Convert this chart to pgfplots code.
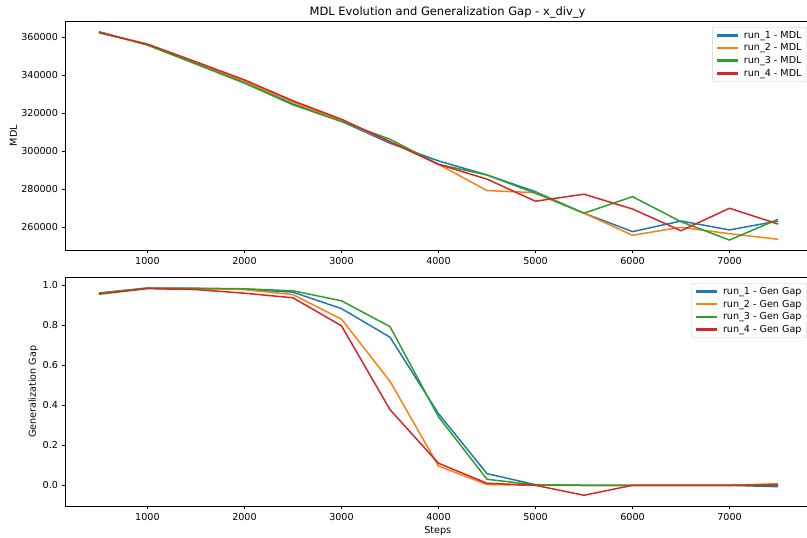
\documentclass[border=0pt]{standalone}
\usepackage{fontspec}
\setmainfont{DejaVu Sans}
\usepackage{pgfplots}
\pgfplotsset{compat=1.18}
\definecolor{c0}{HTML}{1F77B4}
\definecolor{c1}{HTML}{FF7F0E}
\definecolor{c2}{HTML}{2CA02C}
\definecolor{c3}{HTML}{D62728}
\pgfplotsset{
  legend image code/.code={\path (-1pt,0pt) (24pt,0pt);\fill[#1, sharp corners, line width=0pt] (0pt,-0.75pt) rectangle (20pt,0.75pt);},
  common/.style={
    scale only axis, width=747pt, height=228.5pt,
    anchor=south west,
    xmin=150, xmax=7850,
    xtick={1000,2000,...,7000},
    tick align=outside, xtick pos=bottom, ytick pos=left,
    major tick length=3.5pt,
    every tick/.style={black, line width=0.8pt},
    axis line style={line width=0.8pt},
    /pgf/number format/assume math mode=true,
    tick label style={font=\fontsize{9.6}{11}\selectfont},
    label style={font=\fontsize{9.6}{11}\selectfont},
    xticklabel style={/pgf/number format/1000 sep={}},
    legend cell align=left,
    legend style={at={(0.9929,0.9755)}, anchor=north east,
      draw=black!20, fill=white, rounded corners=2pt,
      font=\fontsize{9.6}{11}\selectfont},
  }
}
\begin{document}
\begin{tikzpicture}
\useasboundingbox (0,0) rectangle (807pt,538pt);
\begin{axis}[common, at={(65pt,288pt)},
  ymin=248053, ymax=368210,
  ytick={260000,280000,...,360000},
  scaled y ticks=false,
  yticklabel style={/pgf/number format/.cd, fixed, 1000 sep={}},
  ylabel={MDL},
  ylabel style={at={(axis description cs:-0.0692,0.5)}, anchor=center, rotate=0},
]
\addplot[color=c0, line width=1.5pt] coordinates {(500,362800)(1000,356000)(1500,346300)(2000,336100)(2500,324800)(3000,315700)(3500,304200)(4000,294900)(4500,287500)(5000,278700)(5500,267400)(6000,257700)(6500,263300)(7000,258600)(7500,263300)};
\addlegendentry{run\_1 - MDL}
\addplot[color=c1, line width=1.5pt] coordinates {(500,362500)(1000,356200)(1500,346700)(2000,336800)(2500,325800)(3000,316200)(3500,305000)(4000,293100)(4500,279300)(5000,278200)(5500,267400)(6000,255800)(6500,260000)(7000,256600)(7500,253700)};
\addlegendentry{run\_2 - MDL}
\addplot[color=c2, line width=1.5pt] coordinates {(500,362800)(1000,355800)(1500,345800)(2000,335800)(2500,324400)(3000,315600)(3500,306300)(4000,293100)(4500,287500)(5000,277900)(5500,267400)(6000,276100)(6500,262900)(7000,253300)(7500,264200)};
\addlegendentry{run\_3 - MDL}
\addplot[color=c3, line width=1.5pt] coordinates {(500,362300)(1000,356300)(1500,347000)(2000,337500)(2500,326500)(3000,316800)(3500,305000)(4000,293100)(4500,285300)(5000,273700)(5500,277400)(6000,269600)(6500,258200)(7000,270000)(7500,261700)};
\addlegendentry{run\_4 - MDL}
\end{axis}
\begin{axis}[common, at={(65pt,32pt)},
  ymin=-0.1035, ymax=1.0385,
  ytick={0,0.2,...,1.0},
  yticklabel style={/pgf/number format/.cd, fixed, fixed zerofill, precision=1},
  ylabel={Generalization Gap},
  ylabel style={at={(axis description cs:-0.0424,0.5)}, anchor=center},
  xlabel={Steps},
  xlabel style={at={(axis description cs:0.499,-0.108)}, anchor=center},
]
\addplot[color=c0, line width=1.5pt] coordinates {(500,0.96)(1000,0.985)(1500,0.983)(2000,0.98)(2500,0.965)(3000,0.883)(3500,0.74)(4000,0.358)(4500,0.058)(5000,0.003)(5500,0)(6000,0)(6500,0)(7000,0)(7500,-0.007)};
\addlegendentry{run\_1 - Gen Gap}
\addplot[color=c1, line width=1.5pt] coordinates {(500,0.958)(1000,0.985)(1500,0.982)(2000,0.978)(2500,0.953)(3000,0.83)(3500,0.52)(4000,0.096)(4500,0.004)(5000,0)(5500,0)(6000,0)(6500,0)(7000,0)(7500,0.008)};
\addlegendentry{run\_2 - Gen Gap}
\addplot[color=c2, line width=1.5pt] coordinates {(500,0.961)(1000,0.986)(1500,0.985)(2000,0.982)(2500,0.972)(3000,0.922)(3500,0.793)(4000,0.342)(4500,0.03)(5000,0.002)(5500,0)(6000,0)(6500,0)(7000,0)(7500,0.003)};
\addlegendentry{run\_3 - Gen Gap}
\addplot[color=c3, line width=1.5pt] coordinates {(500,0.955)(1000,0.983)(1500,0.978)(2000,0.96)(2500,0.937)(3000,0.797)(3500,0.378)(4000,0.11)(4500,0.01)(5000,0)(5500,-0.05)(6000,0)(6500,0)(7000,0)(7500,0)};
\addlegendentry{run\_4 - Gen Gap}
\end{axis}
\node[font=\fontsize{11.5}{13}\selectfont] at (447.5pt,526pt) {MDL Evolution and Generalization Gap - x\_div\_y};
\end{tikzpicture}
\end{document}
